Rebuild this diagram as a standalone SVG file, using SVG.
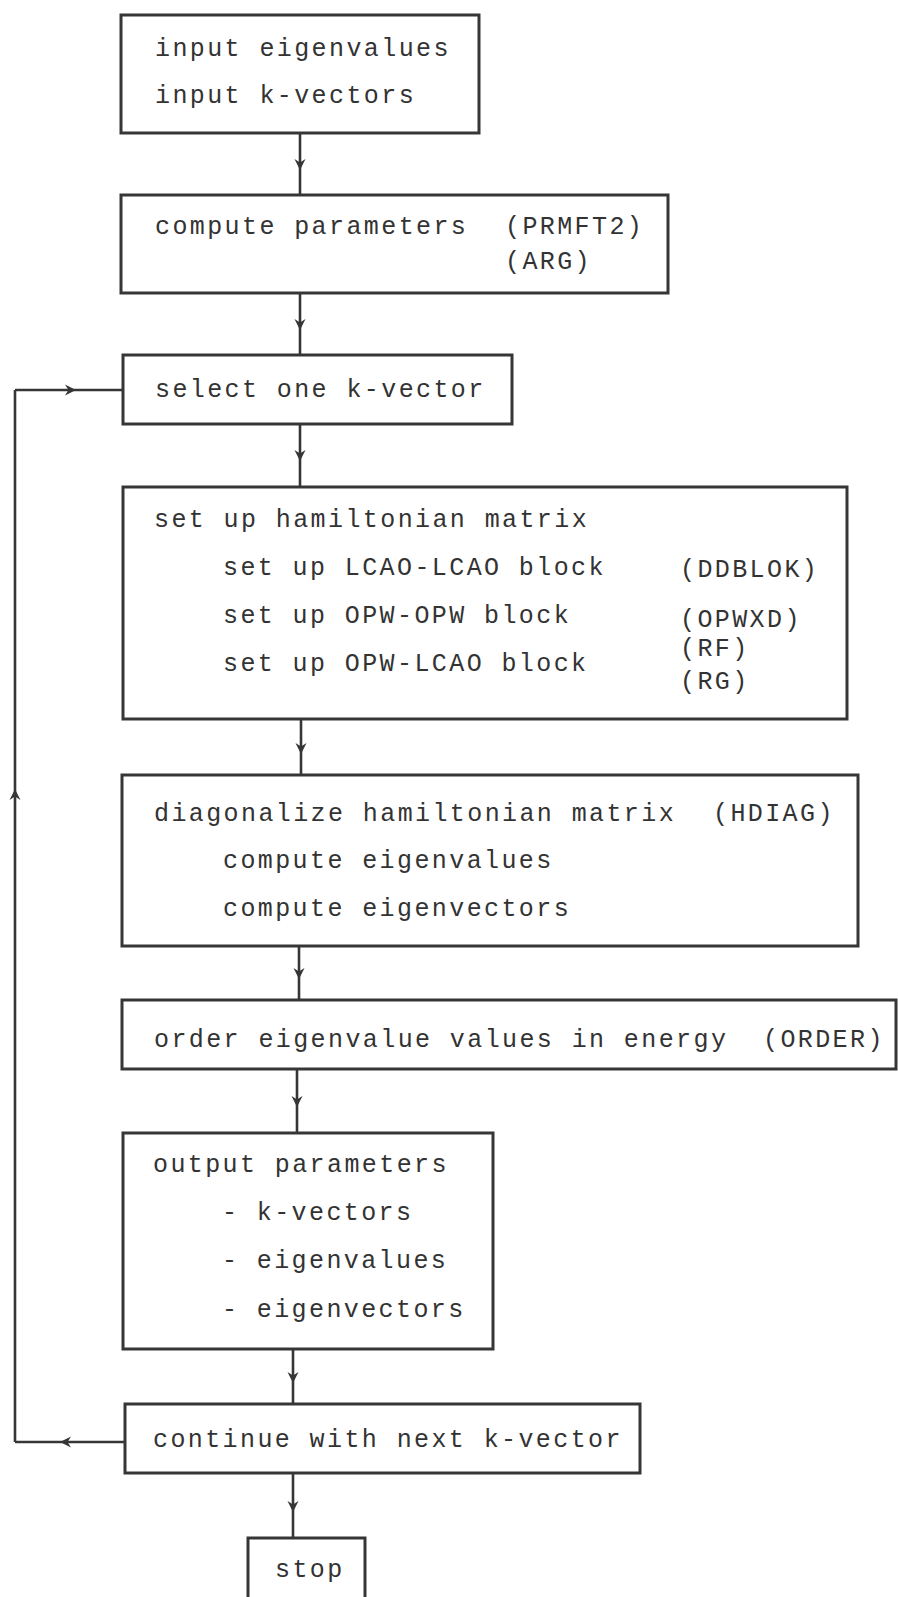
<svg xmlns="http://www.w3.org/2000/svg" width="898" height="1597" viewBox="0 0 898 1597">
<style>
.box{fill:none;stroke:#363636;stroke-width:3}
.t{font-family:"Liberation Mono","Courier New",monospace;font-size:25px;letter-spacing:2.4px;fill:#333333}
.c{fill:none;stroke:#363636;stroke-width:2.6}
.a{marker-mid:url(#arr)}
</style>
<defs>
<marker id="arr" viewBox="0 0 12 12" refX="7" refY="6" markerWidth="12" markerHeight="12" markerUnits="userSpaceOnUse" orient="auto">
<path d="M0,0.5 L11,6 L0,11.5 L3.5,6 z" fill="#363636"/>
</marker>
</defs>
<rect x="0" y="0" width="898" height="1597" fill="#ffffff"/>
<g id="connectors">
<path class="c a" d="M300,133 L300,166 L300,195"/>
<path class="c a" d="M300,293 L300,326 L300,355"/>
<path class="c a" d="M300,424 L300,457 L300,487"/>
<path class="c a" d="M301,719 L301,750 L301,775"/>
<path class="c a" d="M299,946 L299,975 L299,1000"/>
<path class="c a" d="M297,1069 L297,1103 L297,1133"/>
<path class="c a" d="M293,1349 L293,1379 L293,1404"/>
<path class="c a" d="M293,1473 L293,1508 L293,1538"/>
<path class="c a" d="M125,1442 L64,1442 L15,1442"/>
<path class="c a" d="M15,1442 L15,793 L15,390"/>
<path class="c a" d="M15,390 L72,390 L123,390"/>
</g>
<g id="n1">
<rect class="box" x="121" y="15" width="358" height="118"/>
<text class="t" x="155" y="56">input eigenvalues</text>
<text class="t" x="155" y="103">input k-vectors</text>
</g>
<g id="n2">
<rect class="box" x="121" y="195" width="547" height="98"/>
<text class="t" x="155" y="234">compute parameters</text>
<text class="t" x="505" y="234">(PRMFT2)</text>
<text class="t" x="505" y="269">(ARG)</text>
</g>
<g id="n3">
<rect class="box" x="123" y="355" width="389" height="69"/>
<text class="t" x="155" y="397">select one k-vector</text>
</g>
<g id="n4">
<rect class="box" x="123" y="487" width="724" height="232"/>
<text class="t" x="154" y="527">set up hamiltonian matrix</text>
<text class="t" x="223" y="575">set up LCAO-LCAO block</text>
<text class="t" x="680" y="577">(DDBLOK)</text>
<text class="t" x="223" y="623">set up OPW-OPW block</text>
<text class="t" x="680" y="627">(OPWXD)</text>
<text class="t" x="223" y="671">set up OPW-LCAO block</text>
<text class="t" x="680" y="656">(RF)</text>
<text class="t" x="680" y="689">(RG)</text>
</g>
<g id="n5">
<rect class="box" x="122" y="775" width="736" height="171"/>
<text class="t" x="154" y="821">diagonalize hamiltonian matrix</text>
<text class="t" x="713" y="821">(HDIAG)</text>
<text class="t" x="223" y="868">compute eigenvalues</text>
<text class="t" x="223" y="916">compute eigenvectors</text>
</g>
<g id="n6">
<rect class="box" x="122" y="1000" width="774" height="69"/>
<text class="t" x="154" y="1047">order eigenvalue values in energy</text>
<text class="t" x="763" y="1047">(ORDER)</text>
</g>
<g id="n7">
<rect class="box" x="123" y="1133" width="370" height="216"/>
<text class="t" x="153" y="1172">output parameters</text>
<text class="t" x="222" y="1220">- k-vectors</text>
<text class="t" x="222" y="1268">- eigenvalues</text>
<text class="t" x="222" y="1317">- eigenvectors</text>
</g>
<g id="n8">
<rect class="box" x="125" y="1404" width="515" height="69"/>
<text class="t" x="153" y="1447">continue with next k-vector</text>
</g>
<g id="n9">
<path class="box" d="M248,1597 L248,1538 L365,1538 L365,1597"/>
<text class="t" x="275" y="1577">stop</text>
</g>
</svg>
